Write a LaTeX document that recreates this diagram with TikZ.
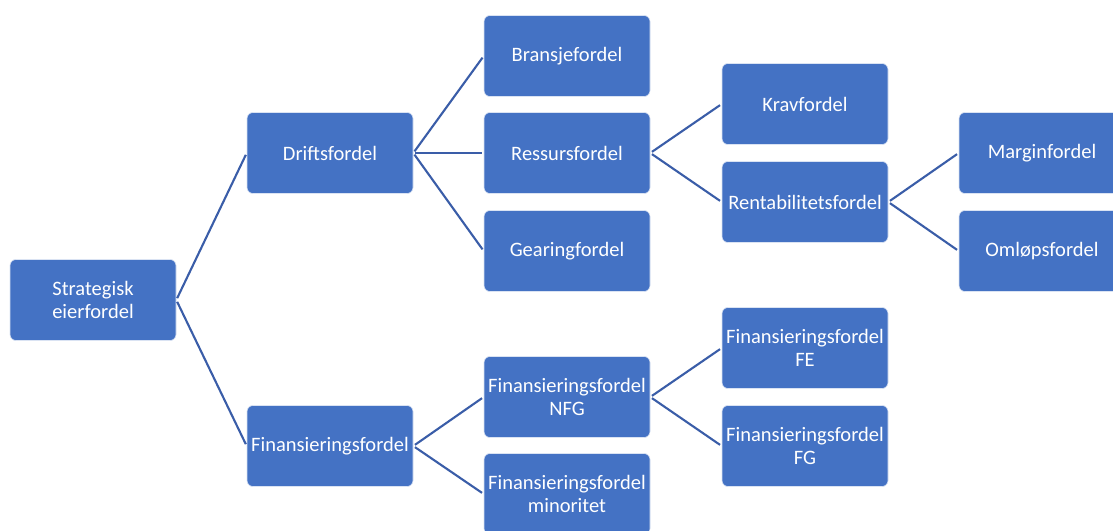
\documentclass[tikz,border=0pt]{standalone}
\usepackage{fontspec}
\setmainfont{Carlito}
\definecolor{boxblue}{HTML}{4472C4}
\definecolor{linkblue}{HTML}{3A5DA8}
\begin{document}
\begin{tikzpicture}[x=1pt,y=-1pt,
  box/.style={draw=white!80!boxblue, line width=0.6pt, fill=boxblue, rounded corners=6pt,
    minimum width=166pt, minimum height=81pt, inner sep=0pt, align=center,
    text=white, font=\fontsize{20.5}{22.5}\selectfont},
  link/.style={draw=linkblue, line width=2.1pt, shorten <=2pt, shorten >=2pt}]
\clip (0,0) rectangle (1113,530);
\useasboundingbox (0,0) rectangle (1113,530);
\fill[white] (0,0) rectangle (1113,530);

\node[box] (root) at (93,300) {Strategisk\\eierfordel};
\node[box] (drift) at (330,153) {Driftsfordel};
\node[box] (fin) at (330,446) {Finansieringsfordel};
\node[box] (bransje) at (567,56) {Bransjefordel};
\node[box] (ressurs) at (567,153) {Ressursfordel};
\node[box] (gearing) at (567,251) {Gearingfordel};
\node[box] (krav) at (805,104) {Kravfordel};
\node[box] (rent) at (805,202) {Rentabilitetsfordel};
\node[box] (margin) at (1042,153) {Marginfordel};
\node[box] (omlop) at (1042,251) {Omløpsfordel};
\node[box] (nfg) at (567,397) {Finansieringsfordel\\NFG};
\node[box] (minor) at (567,494) {Finansieringsfordel\\minoritet};
\node[box] (fe) at (805,348) {Finansieringsfordel\\FE};
\node[box] (fg) at (805,446) {Finansieringsfordel\\FG};

\foreach \a/\b in {root/drift, root/fin, drift/bransje, drift/ressurs, drift/gearing,
  ressurs/krav, ressurs/rent, rent/margin, rent/omlop, fin/nfg, fin/minor, nfg/fe, nfg/fg}
  \draw[link] (\a.east) -- (\b.west);
\end{tikzpicture}
\end{document}
